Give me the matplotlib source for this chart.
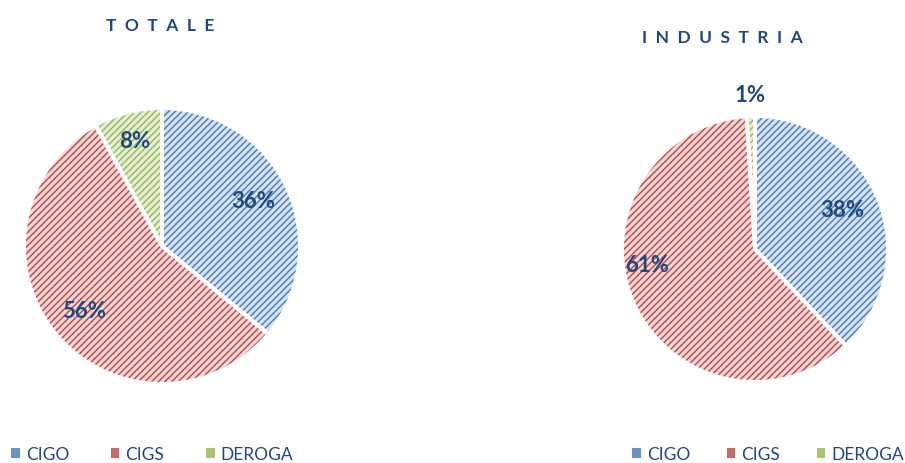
import numpy as np
import matplotlib
matplotlib.use('Agg')
import matplotlib.pyplot as plt
from matplotlib.patches import Patch

# data
categories = ['CIGO', 'CIGS', 'DEROGA']
totale = [36, 56, 8]
industria = [38, 61, 1]

face_colors = ['#d8e3f2', '#f3d8d7', '#e6efd5']
hatch_colors = ['#4f81bd', '#c0504d', '#9bbb59']
text_color = '#1f497d'

plt.rcParams['font.family'] = ['Lato', 'DejaVu Sans']
plt.rcParams['hatch.linewidth'] = 1.1

fig = plt.figure(figsize=(9.05, 4.64), dpi=100)
W, H = 905, 464


def pie_axes(cx, cy, r):
    ax = fig.add_axes([(cx - r) / W, (H - cy - r) / H, 2 * r / W, 2 * r / H])
    ax.axis('off')
    return ax


def draw_pie(ax, values, label_r, label_dang):
    # hatched fill
    wedges, _ = ax.pie(values, startangle=90, counterclock=False, radius=1,
                       colors=face_colors, wedgeprops=dict(linewidth=0))
    for w, hc in zip(wedges, hatch_colors):
        w.set_hatch('/////')
        w.set_edgecolor(hc)
    # white separators on top
    ax.pie(values, startangle=90, counterclock=False, radius=1,
           colors=['none'] * len(values),
           wedgeprops=dict(linewidth=2.8, edgecolor='white', fill=False))
    ax.set_xlim(-1, 1)
    ax.set_ylim(-1, 1)
    ax.set_aspect('equal')
    total = float(sum(values))
    start = 90.0
    for v, r, da in zip(values, label_r, label_dang):
        mid = start - v / total * 360 / 2 + da
        start -= v / total * 360
        a = np.deg2rad(mid)
        ax.text(r * np.cos(a), r * np.sin(a), '%d%%' % v, ha='center', va='center',
                fontsize=16, fontweight='bold', color=text_color, clip_on=False)


ax1 = pie_axes(162, 247, 138)
draw_pie(ax1, totale, [0.74, 0.73, 0.79], [1.5, 0, 0])

ax2 = pie_axes(755, 250, 133)
draw_pie(ax2, industria, [0.72, 0.82, 1.16], [2.5, -15, 0])

fig.text(160 / W, 1 - 26 / H, 'T  O  T  A  L  E', ha='center', va='center',
         fontsize=12.5, fontweight='bold', color=text_color)
fig.text(722 / W, 1 - 38 / H, 'I  N  D  U  S  T  R  I  A', ha='center', va='center',
         fontsize=12.5, fontweight='bold', color=text_color)

handles = [Patch(facecolor=hatch_colors[i], edgecolor='none', alpha=0.85) for i in range(3)]
for x0, cs in ((11, 2.4), (632, 2.1)):
    leg = fig.legend(handles, categories, ncol=3, loc='center left',
                     bbox_to_anchor=(x0 / W, 1 - 455 / H), frameon=False,
                     fontsize=12.5, handlelength=0.5, handleheight=0.5,
                     handletextpad=0.35, columnspacing=cs, borderpad=0,
                     borderaxespad=0)
    for t in leg.get_texts():
        t.set_color(text_color)

fig.savefig('out.png', dpi=100)
